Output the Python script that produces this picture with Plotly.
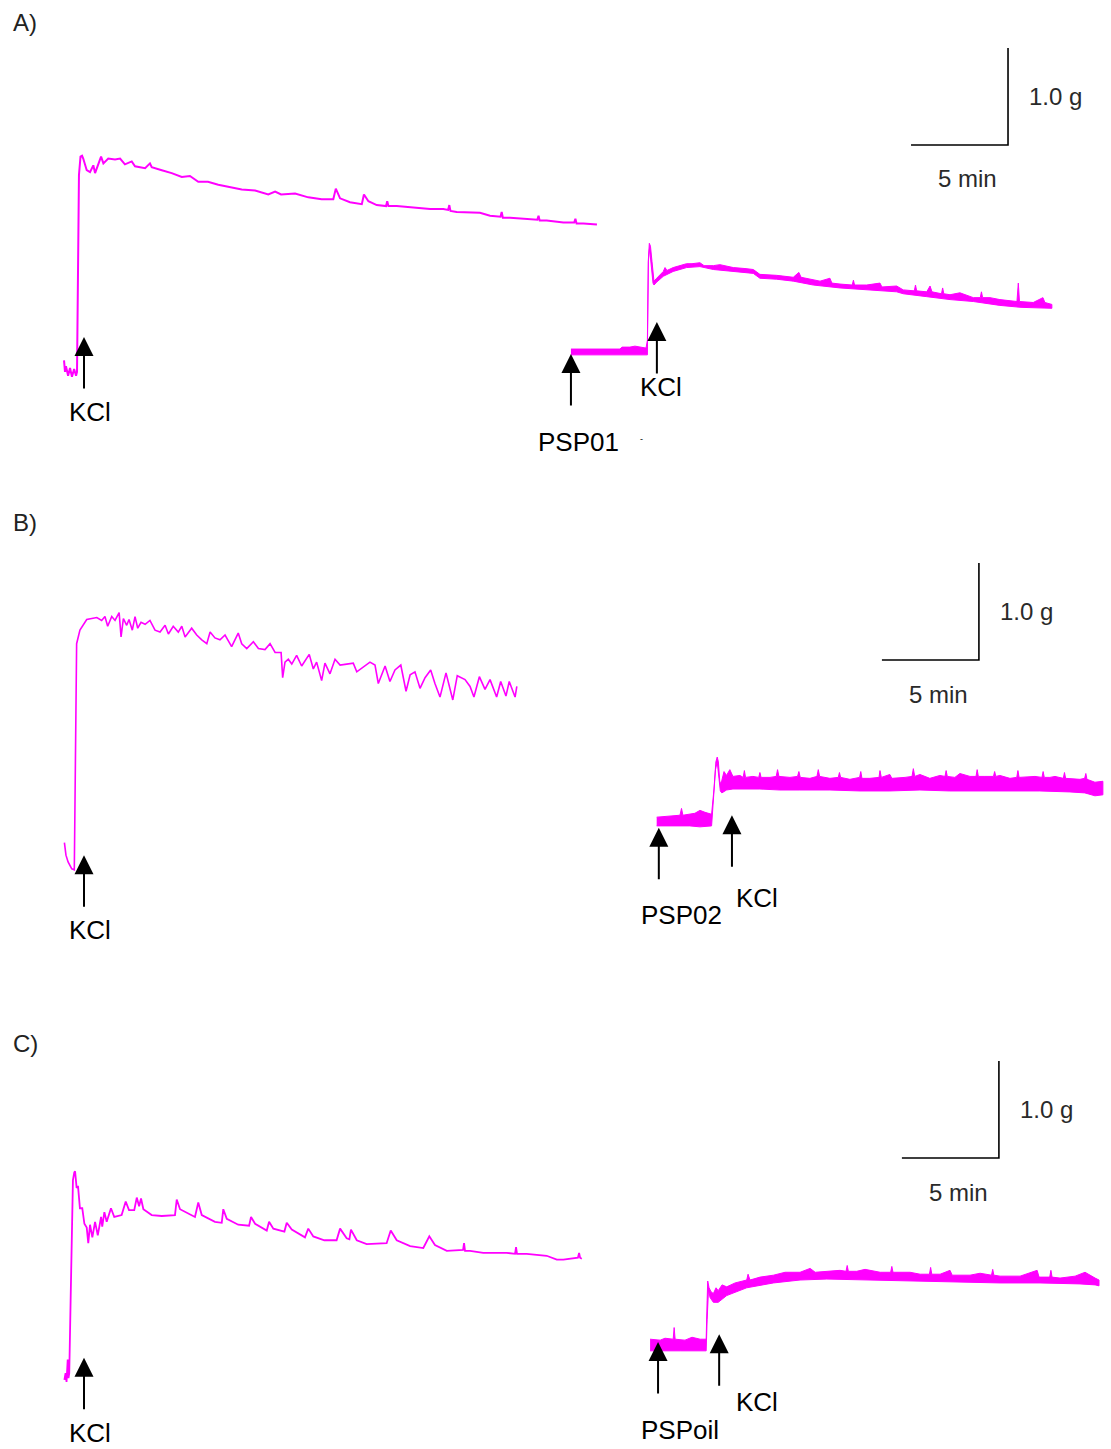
import plotly.graph_objects as go

# ---------------------------------------------------------------------------
# Isometric tension recordings (time in min from the start of each recording,
# tension in g relative to the resting baseline).
# ---------------------------------------------------------------------------

# A) control KCl contraction
a_ctrl_t = [0.00, 0.05, 0.10, 0.21, 0.31, 0.41, 0.52, 0.62, 0.67, 0.72, 0.77, 0.85, 0.93, 0.99,
            1.17, 1.34, 1.51, 1.60, 1.77, 1.91, 2.03, 2.28, 2.63, 2.89, 3.14, 3.49, 3.66, 4.18,
            4.43, 4.52, 5.04, 5.55, 6.07, 6.49, 6.92, 7.42, 7.95, 8.47, 9.16, 9.85, 10.53, 10.88,
            11.19, 11.91, 12.59, 13.28, 13.88, 14.01, 14.23, 14.74, 15.35, 15.46, 15.69, 16.12,
            16.60, 16.66, 16.72, 17.15, 18.18, 18.87, 19.55, 19.80, 19.86, 19.92, 20.24, 21.44,
            21.96, 22.50, 22.56, 22.62, 22.99, 24.02, 24.40, 24.46, 24.52, 24.88, 25.74, 26.30,
            26.36, 26.42, 26.77, 27.47]
a_ctrl_g = [0.10, -0.02, 0.04, -0.06, 0.02, -0.07, 0.01, -0.06, -0.02, 1.34, 2.01, 2.20, 2.21, 2.18,
            2.06, 2.04, 2.11, 2.03, 2.13, 2.20, 2.13, 2.18, 2.17, 2.18, 2.12, 2.15, 2.10, 2.08,
            2.13, 2.09, 2.06, 2.03, 1.99, 2.00, 1.94, 1.94, 1.91, 1.89, 1.86, 1.85, 1.81, 1.84,
            1.81, 1.82, 1.78, 1.76, 1.76, 1.87, 1.77, 1.73, 1.71, 1.81, 1.74, 1.70,
            1.69, 1.74, 1.69, 1.69, 1.67, 1.66, 1.66, 1.65, 1.70, 1.64, 1.63, 1.62,
            1.59, 1.58, 1.63, 1.57, 1.57, 1.55, 1.55, 1.59, 1.54, 1.54, 1.52, 1.52,
            1.56, 1.51, 1.51, 1.50]

# A) PSP01 pre-incubation then KCl (upper / lower envelope of the trace)
a_psp_up_t = [0.00, 2.53, 2.63, 3.04, 3.30, 3.56, 3.87, 3.94, 3.99, 4.04, 4.10, 4.18, 4.28, 4.42,
              4.59, 4.76, 4.85, 4.95, 5.27, 5.62, 5.96, 6.24, 6.65, 6.86, 7.34, 7.68, 8.37, 8.97,
              9.40, 9.74, 10.60, 11.46, 11.75, 11.86, 12.49, 12.84, 13.35, 13.45, 13.87, 14.50,
              14.56, 14.62, 15.24, 15.93, 16.03, 16.79, 17.13, 17.70, 17.76, 17.82, 18.34, 18.51,
              18.61, 19.10, 19.16, 19.22, 19.54, 20.05, 20.74, 21.10, 21.16, 21.22, 21.60, 22.11,
              22.99, 23.06, 23.12, 23.83, 24.33, 24.43, 24.79]
a_psp_up_g = [0.03, 0.03, 0.05, 0.05, 0.06, 0.05, 0.04, 0.12, 0.95, 1.12, 1.09, 0.93, 0.73, 0.76,
              0.79, 0.83, 0.87, 0.84, 0.87, 0.89, 0.91, 0.91, 0.92, 0.89, 0.89, 0.90, 0.87, 0.86,
              0.85, 0.80, 0.79, 0.77, 0.82, 0.77, 0.74, 0.73, 0.76, 0.71, 0.70, 0.69,
              0.74, 0.69, 0.69, 0.71, 0.67, 0.68, 0.64, 0.63, 0.69, 0.63, 0.62, 0.68,
              0.62, 0.60, 0.66, 0.60, 0.59, 0.61, 0.56, 0.56, 0.62, 0.56, 0.56, 0.54,
              0.52, 0.71, 0.52, 0.51, 0.56, 0.51, 0.49]
a_psp_lo_t = [0.00, 3.87, 3.94, 3.99, 4.05, 4.12, 4.23, 4.28, 4.42, 4.76, 5.27, 5.96, 6.65, 7.34,
              8.37, 9.40, 9.74, 10.60, 11.46, 12.49, 13.87, 15.24, 16.79, 17.13, 18.34, 19.54,
              20.74, 22.11, 23.20, 24.79]
a_psp_lo_g = [-0.03, -0.03, -0.03, 0.93, 1.07, 0.93, 0.71, 0.69, 0.72, 0.78, 0.83, 0.87, 0.88, 0.85,
              0.83, 0.81, 0.76, 0.75, 0.73, 0.69, 0.66, 0.64, 0.62, 0.60, 0.57, 0.54,
              0.52, 0.48, 0.46, 0.45]

# B) control KCl contraction
b_ctrl_t = [0.02, 0.10, 0.21, 0.40, 0.53, 0.58, 0.62, 0.65, 0.82, 1.17, 1.43, 1.69, 1.94, 2.11,
            2.25, 2.46, 2.63, 2.84, 2.94, 3.06, 3.23, 3.35, 3.52, 3.66, 3.80, 3.97, 4.18, 4.43,
            4.69, 4.95, 5.21, 5.38, 5.63, 5.89, 6.07, 6.24, 6.58, 6.84, 7.10, 7.36, 7.53, 7.78,
            8.04, 8.30, 8.64, 8.98, 9.16, 9.42, 9.76, 10.02, 10.36, 10.62, 10.88, 11.19, 11.27,
            11.39, 11.56, 11.74, 11.99, 12.25, 12.64, 12.85, 13.02, 13.28, 13.45, 13.71, 13.97,
            14.23, 14.57, 14.91, 15.09, 15.43, 15.77, 16.03, 16.20, 16.55, 16.80, 17.06, 17.36,
            17.63, 17.84, 18.09, 18.35, 18.61, 18.90, 19.12, 19.38, 19.69, 20.04, 20.27, 20.67,
            20.93, 21.13, 21.41, 21.70, 21.96, 22.30, 22.51, 22.78, 22.95, 23.25, 23.34]
b_ctrl_g = [0.18, 0.05, -0.02, -0.09, -0.10, 0.82, 1.86, 2.23, 2.37, 2.48, 2.49, 2.50, 2.47, 2.51,
            2.41, 2.51, 2.47, 2.55, 2.30, 2.49, 2.42, 2.48, 2.37, 2.51, 2.39, 2.45, 2.43, 2.47,
            2.37, 2.35, 2.42, 2.33, 2.41, 2.35, 2.41, 2.30, 2.39, 2.32, 2.27, 2.23, 2.35, 2.29,
            2.27, 2.32, 2.20, 2.34, 2.23, 2.18, 2.25, 2.18, 2.17, 2.23, 2.14, 2.14, 1.88,
            2.04, 2.07, 2.02, 2.11, 2.00, 2.12, 1.97, 2.04, 1.85, 2.03, 1.92, 2.07,
            2.01, 2.02, 2.03, 1.94, 1.99, 2.04, 2.01, 1.82, 2.00, 1.84, 1.96, 2.01,
            1.74, 1.91, 1.94, 1.77, 1.88, 1.96, 1.82, 1.68, 1.93, 1.65, 1.90, 1.86,
            1.79, 1.68, 1.89, 1.76, 1.86, 1.68, 1.84, 1.69, 1.84, 1.68, 1.79]

# B) PSP02 pre-incubation then KCl (upper / lower envelope)
b_psp_up_t = [0.04, 0.72, 1.24, 1.32, 1.39, 2.01, 2.27, 2.53, 2.87, 2.99, 3.09, 3.16, 3.22, 3.30,
              3.40, 3.51, 3.64, 3.81, 3.97, 4.33, 4.50, 4.56, 4.62, 5.00, 5.30, 5.36, 5.42, 5.88,
              6.20, 6.27, 6.34, 6.91, 7.30, 7.37, 7.44, 7.94, 8.30, 8.37, 8.44, 8.97, 9.40, 9.46,
              9.52, 10.00, 10.50, 10.56, 10.62, 11.03, 11.50, 11.55, 11.62, 12.06, 12.16, 12.84,
              13.20, 13.27, 13.34, 13.61, 14.12, 14.64, 14.90, 14.96, 15.02, 15.41, 15.67, 16.19,
              16.50, 16.56, 16.62, 16.96, 17.40, 17.46, 17.52, 17.73, 18.25, 18.60, 18.66, 18.72,
              19.54, 19.90, 19.96, 20.02, 20.31, 20.57, 21.00, 21.06, 21.12, 21.86, 22.10, 22.16,
              22.22, 22.63, 23.04]
b_psp_up_g = [0.04, 0.05, 0.06, 0.13, 0.06, 0.08, 0.11, 0.09, 0.07, 0.32, 0.61, 0.66, 0.61, 0.38,
              0.42, 0.51, 0.47, 0.53, 0.46, 0.47, 0.45, 0.52, 0.45, 0.46, 0.45, 0.50, 0.45, 0.45,
              0.46, 0.53, 0.46, 0.45, 0.46, 0.51, 0.45, 0.44, 0.46, 0.53, 0.46, 0.44, 0.45, 0.50,
              0.45, 0.43, 0.45, 0.51, 0.44, 0.44, 0.45, 0.52, 0.45, 0.48, 0.44, 0.45,
              0.46, 0.54, 0.46, 0.48, 0.44, 0.47, 0.46, 0.52, 0.46, 0.45, 0.49, 0.46,
              0.46, 0.53, 0.46, 0.46, 0.46, 0.51, 0.46, 0.47, 0.44, 0.45, 0.52, 0.45,
              0.46, 0.45, 0.51, 0.45, 0.45, 0.46, 0.44, 0.50, 0.44, 0.43, 0.44, 0.49,
              0.43, 0.40, 0.41]
b_psp_lo_t = [0.04, 1.75, 2.27, 2.87, 2.96, 3.07, 3.16, 3.25, 3.32, 3.40, 3.64, 3.97, 4.33, 5.36,
              6.39, 7.42, 8.97, 10.52, 12.06, 13.61, 15.15, 16.70, 18.25, 19.79, 21.34, 22.11,
              22.63, 23.04]
b_psp_lo_g = [-0.05, -0.05, -0.06, -0.05, 0.22, 0.53, 0.61, 0.47, 0.31, 0.29, 0.32, 0.33, 0.33, 0.33,
              0.32, 0.32, 0.32, 0.31, 0.31, 0.32, 0.31, 0.31, 0.31, 0.31, 0.30, 0.29,
              0.26, 0.27]

# C) control KCl contraction
c_ctrl_t = [0.02, 0.08, 0.13, 0.19, 0.23, 0.27, 0.34, 0.40, 0.46, 0.53, 0.57, 0.65, 0.72, 0.82,
            0.94, 1.05, 1.17, 1.25, 1.34, 1.46, 1.60, 1.74, 1.91, 1.97, 2.08, 2.20, 2.42, 2.59,
            2.97, 3.18, 3.35, 3.62, 3.75, 3.87, 3.97, 4.09, 4.52, 5.04, 5.72, 5.81, 5.98, 6.75,
            6.92, 7.10, 7.78, 8.13, 8.21, 8.39, 8.98, 9.54, 9.64, 9.85, 10.45, 10.57, 10.79,
            11.36, 11.48, 11.74, 12.42, 12.59, 12.85, 13.42, 14.05, 14.23, 14.57, 14.71, 14.79,
            15.09, 15.60, 16.63, 16.84, 17.15, 17.84, 18.52, 18.83, 19.12, 19.73, 20.57, 20.62,
            20.67, 20.93, 21.61, 22.82, 23.25, 23.30, 23.35, 23.85, 24.88, 25.40, 25.74, 26.08,
            26.49, 26.55, 26.60, 26.69]
c_ctrl_g = [-0.02, 0.05, -0.04, 0.19, 0.00, 0.05, 0.80, 1.63, 2.04, 2.12, 2.13, 1.96, 1.98, 1.75,
            1.75, 1.59, 1.55, 1.39, 1.58, 1.45, 1.61, 1.47, 1.66, 1.56, 1.71, 1.61, 1.75, 1.66,
            1.68, 1.82, 1.73, 1.73, 1.86, 1.77, 1.85, 1.74, 1.68, 1.67, 1.68, 1.84, 1.74, 1.66,
            1.81, 1.68, 1.61, 1.60, 1.74, 1.64, 1.58, 1.57, 1.66, 1.59, 1.52, 1.61, 1.54,
            1.51, 1.60, 1.53, 1.45, 1.54, 1.46, 1.42, 1.42, 1.54, 1.44, 1.43, 1.53,
            1.42, 1.38, 1.39, 1.52, 1.42, 1.36, 1.34, 1.46, 1.37, 1.31, 1.32, 1.39,
            1.31, 1.31, 1.29, 1.29, 1.28, 1.35, 1.28, 1.28, 1.26, 1.22, 1.22, 1.23,
            1.24, 1.29, 1.24, 1.23]

# C) PSPoil pre-incubation then KCl (upper / lower envelope)
c_psp_up_t = [0.00, 0.52, 0.77, 1.19, 1.24, 1.29, 1.80, 2.16, 2.58, 2.89, 2.94, 2.97, 3.04, 3.14,
              3.26, 3.40, 3.51, 3.71, 3.95, 4.38, 4.98, 5.05, 5.15, 5.67, 6.36, 6.96, 7.73, 8.25,
              8.51, 9.11, 9.79, 10.10, 10.16, 10.22, 10.65, 11.08, 11.86, 12.40, 12.46, 12.52,
              12.89, 13.40, 13.92, 14.40, 14.46, 14.52, 14.95, 15.46, 15.57, 16.49, 17.01, 17.60,
              17.66, 17.72, 18.04, 19.07, 19.95, 20.05, 20.60, 20.66, 20.72, 21.13, 21.91, 22.42,
              22.94, 23.14]
c_psp_up_g = [0.06, 0.05, 0.07, 0.06, 0.18, 0.06, 0.05, 0.08, 0.06, 0.06, 0.46, 0.66, 0.59, 0.55,
              0.53, 0.59, 0.56, 0.62, 0.60, 0.64, 0.67, 0.73, 0.67, 0.70, 0.72, 0.75, 0.75, 0.79,
              0.75, 0.76, 0.77, 0.76, 0.82, 0.76, 0.76, 0.78, 0.75, 0.75, 0.81, 0.75,
              0.75, 0.75, 0.73, 0.73, 0.80, 0.73, 0.73, 0.77, 0.72, 0.72, 0.74, 0.72,
              0.78, 0.72, 0.71, 0.71, 0.77, 0.70, 0.70, 0.77, 0.70, 0.69, 0.71, 0.75,
              0.69, 0.67]
c_psp_lo_t = [0.00, 1.55, 2.89, 2.94, 3.01, 3.09, 3.26, 3.51, 3.95, 4.98, 6.36, 7.73, 9.11, 10.65,
              11.86, 13.92, 15.98, 18.04, 20.10, 22.16, 22.94, 23.14]
c_psp_lo_g = [-0.06, -0.06, -0.06, 0.26, 0.57, 0.49, 0.44, 0.44, 0.51, 0.59, 0.64, 0.67, 0.68, 0.68,
              0.67, 0.66, 0.65, 0.64, 0.64, 0.63, 0.62, 0.61]

# Drug additions: (label, recording, time in min, tension at arrow tip in g)
events = [
    ("KCl", "A_ctrl", 1.03, 0.34),
    ("PSP01", "A_psp", 0.00, -0.02),
    ("KCl", "A_psp", 4.43, 0.31),
    ("KCl", "B_ctrl", 1.03, 0.05),
    ("PSP02", "B_psp", 0.15, -0.07),
    ("KCl", "B_psp", 3.92, 0.06),
    ("KCl", "C_ctrl", 1.03, 0.21),
    ("PSPoil", "C_psp", 0.41, 0.03),
    ("KCl", "C_psp", 3.56, 0.11),
]

# Calibration bars
SCALE_MIN = 5
SCALE_G = 1.0

# ---------------------------------------------------------------------------
# Layout: three panels stacked, each with its own time/tension axis pair
# ---------------------------------------------------------------------------
W, H = 1111, 1449
PX_PER_UNIT = 97.0                 # 1 g and 5 min both span this many pixels
X_RANGE = [0, W / (PX_PER_UNIT / 5)]
panel_px = {"A": (0, 480), "B": (480, 1000), "C": (1000, 1449)}
axis_ids = {"A": ("x", "y"), "B": ("x2", "y2"), "C": ("x3", "y3")}

# where each recording is placed inside its panel (min, g)
place = {
    "A_ctrl": ("A", 3.30, 1.134),
    "A_psp": ("A", 29.43, 1.320),
    "B_ctrl": ("B", 3.30, 1.443),
    "B_psp": ("B", 33.81, 1.845),
    "C_ctrl": ("C", 3.30, 0.732),
    "C_psp": ("C", 33.51, 1.072),
}
# scale-bar corner in each panel (min, g)
bar_corner = {"A": (51.96, 3.454), "B": (50.46, 3.505), "C": (51.49, 3.000)}
# label offsets from arrow tip (px right, px down)
label_off = [(6, 75), (8, 88), (4, 65), (6, 75), (23, 87), (25, 83), (6, 75), (22, 88), (38, 68)]

MAGENTA = "#ff00ff"
fig = go.Figure()


def shift(rec, ts, gs):
    _, x0, y0 = place[rec]
    return [t + x0 for t in ts], [g + y0 for g in gs]


def add_line(rec, ts, gs, width):
    panel = place[rec][0]
    xs, ys = shift(rec, ts, gs)
    xa, ya = axis_ids[panel]
    fig.add_trace(go.Scatter(x=xs, y=ys, mode="lines", xaxis=xa, yaxis=ya,
                             line=dict(color=MAGENTA, width=width, shape="linear"),
                             hoverinfo="skip", showlegend=False))


def add_band(rec, ut, ug, lt, lg):
    panel = place[rec][0]
    ux, uy = shift(rec, ut, ug)
    lx, ly = shift(rec, lt, lg)
    xa, ya = axis_ids[panel]
    fig.add_trace(go.Scatter(x=ux + lx[::-1], y=uy + ly[::-1], mode="lines",
                             xaxis=xa, yaxis=ya, fill="toself", fillcolor=MAGENTA,
                             line=dict(color=MAGENTA, width=1),
                             hoverinfo="skip", showlegend=False))


add_line("A_ctrl", a_ctrl_t, a_ctrl_g, 2)
add_band("A_psp", a_psp_up_t, a_psp_up_g, a_psp_lo_t, a_psp_lo_g)
add_line("B_ctrl", b_ctrl_t, b_ctrl_g, 1.6)
add_band("B_psp", b_psp_up_t, b_psp_up_g, b_psp_lo_t, b_psp_lo_g)
add_line("C_ctrl", c_ctrl_t, c_ctrl_g, 1.8)
add_band("C_psp", c_psp_up_t, c_psp_up_g, c_psp_lo_t, c_psp_lo_g)

annotations = []
LABEL_FONT = dict(family="Liberation Sans, Arial, sans-serif", size=26, color="#000000")
SCALE_FONT = dict(family="Liberation Sans, Arial, sans-serif", size=24, color="#2a2a2a")

# calibration bars and their labels
for panel, (cx, cy) in bar_corner.items():
    xa, ya = axis_ids[panel]
    fig.add_trace(go.Scatter(x=[cx - SCALE_MIN, cx, cx], y=[cy, cy, cy + SCALE_G],
                             mode="lines", xaxis=xa, yaxis=ya,
                             line=dict(color="#000000", width=1.6),
                             hoverinfo="skip", showlegend=False))
    annotations.append(dict(x=cx, y=cy + SCALE_G / 2, xref=xa, yref=ya, xshift=19,
                            text=f"{SCALE_G:.1f} g", showarrow=False,
                            xanchor="left", yanchor="middle", font=SCALE_FONT))
    annotations.append(dict(x=cx - SCALE_MIN / 2, y=cy, xref=xa, yref=ya, xshift=8,
                            yshift=-34, text=f"{SCALE_MIN} min", showarrow=False,
                            xanchor="center", yanchor="middle", font=SCALE_FONT))

# drug-addition arrows and labels
for (label, rec, t, g), (dx, dy) in zip(events, label_off):
    panel, x0, y0 = place[rec]
    xa, ya = axis_ids[panel]
    annotations.append(dict(x=t + x0, y=g + y0, xref=xa, yref=ya, text="",
                            showarrow=True, ax=0, ay=53, axref="pixel", ayref="pixel",
                            arrowhead=2, arrowsize=1.9, arrowwidth=2, arrowcolor="#000000",
                            standoff=0))
    annotations.append(dict(x=t + x0, y=g + y0, xref=xa, yref=ya, text=label,
                            xshift=dx, yshift=-dy, showarrow=False,
                            xanchor="center", yanchor="middle", font=LABEL_FONT))

# small stray mark next to the PSP01 label
annotations.append(dict(x=641 / W, y=1 - 432 / H, xref="paper", yref="paper", text="-",
                        showarrow=False, font=dict(family="Liberation Sans", size=9, color="#000")))

# panel letters
for panel, ypx in (("A", 22), ("B", 522), ("C", 1043)):
    annotations.append(dict(x=11 / W, y=1 - ypx / H, xref="paper", yref="paper",
                            text=f"{panel})", showarrow=False, xanchor="left",
                            yanchor="middle",
                            font=dict(family="Liberation Sans, Arial, sans-serif",
                                      size=24, color="#222222")))

layout_axes = {}
for panel, (top, bottom) in panel_px.items():
    xa, ya = axis_ids[panel]
    xkey = "xaxis" if xa == "x" else "xaxis" + xa[1:]
    ykey = "yaxis" if ya == "y" else "yaxis" + ya[1:]
    layout_axes[xkey] = dict(range=X_RANGE, domain=[0, 1], anchor=ya, visible=False,
                             fixedrange=True)
    layout_axes[ykey] = dict(range=[0, (bottom - top) / PX_PER_UNIT],
                             domain=[1 - bottom / H, 1 - top / H], anchor=xa,
                             visible=False, fixedrange=True)

fig.update_layout(width=W, height=H, margin=dict(l=0, r=0, t=0, b=0),
                  paper_bgcolor="white", plot_bgcolor="white",
                  annotations=annotations, showlegend=False, **layout_axes)

fig.write_html("out.html")
